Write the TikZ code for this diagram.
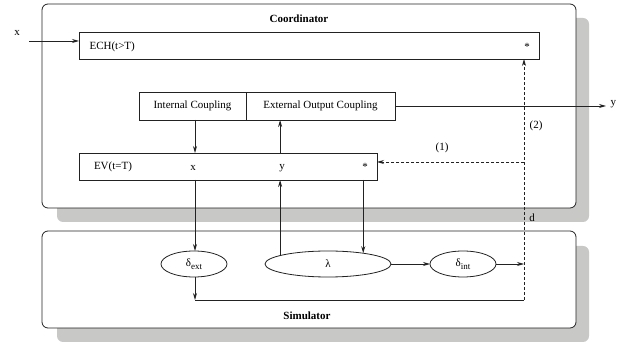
\documentclass[tikz,border=0pt]{standalone}
\usepackage{fontspec}
\setmainfont{Liberation Serif}
\usetikzlibrary{shapes.geometric,arrows.meta}
\definecolor{shade}{HTML}{C8C9C7}
\definecolor{ink}{HTML}{222222}
\begin{document}
\begin{tikzpicture}[x=1pt,y=-1pt, font=\fontsize{11}{13}\selectfont,
  frame/.style={draw=ink, line width=0.8pt, fill=white, rounded corners=6pt, inner sep=0, outer sep=0, minimum width=534pt},
  shadowbox/.style={fill=shade, rounded corners=6pt, inner sep=0, outer sep=0, minimum width=532pt},
  box/.style={draw=ink, line width=0.8pt, inner sep=0, outer sep=0},
  oval/.style={ellipse, draw=ink, line width=0.8pt, inner sep=0, outer sep=0, minimum height=26pt},
  tip/.style={-{Stealth[length=7pt,width=4pt]}},
  arr/.style={draw=ink, line width=0.8pt, tip},
  ln/.style={draw=ink, line width=0.8pt},
  dsh/.style={draw=ink, line width=0.8pt, dash pattern=on 3pt off 2pt},
  sub/.style={}]
\useasboundingbox (0,0) rectangle (632,344);
% frames with shadows
\node[shadowbox, minimum height=204pt] (cshadow) at (323,120) {};
\node[frame, minimum height=204pt] (coord) at (309,106) {};
\node[shadowbox, minimum height=96pt] (sshadow) at (323,294) {};
\node[frame, minimum height=97pt] (sim) at (309,279.5) {};
\node[font=\fontsize{11}{13}\selectfont\bfseries] (ctitle) at (299,19) {Coordinator};
\node[font=\fontsize{11}{13}\selectfont\bfseries] (stitle) at (307,316) {Simulator};
% ECH
\node[box, minimum width=460pt, minimum height=27pt] (ech) at (309,45.5) {};
\node[anchor=west] (echt) at (86,47) {ECH(t>T)};
\node (echstar) at (527,47) {*};
\node (xlab) at (17,33) {x};
\coordinate (xin) at (29,41);
\draw[arr] (xin) -- (ech.west |- xin);
% couplings
\node[box, minimum width=107pt, minimum height=28pt] (ic) at (192.5,106) {Internal Coupling};
\node[box, minimum width=149pt, minimum height=28pt] (eoc) at (320.5,106) {External Output Coupling};
\coordinate (yout) at (606,106);
\node[anchor=west] (ylab) at (607,104) {y};
\draw[arr] (eoc) -- (yout);
% EV
\node[box, minimum width=298pt, minimum height=27pt] (ev) at (228,166.5) {};
\node (evt) at (113,167) {EV(t=T)};
\node (evx) at (193,168) {x};
\node (evy) at (282,168) {y};
\node (evstar) at (365,167) {*};
% ellipses
\node[oval, minimum width=66pt] (dext) at (194,264) {δ\raisebox{-0.7ex}{\fontsize{9}{10}\selectfont ext}};
\node[oval, minimum width=126pt] (lam) at (328,264) {λ};
\node[oval, minimum width=66pt] (dint) at (463,264) {δ\raisebox{-0.7ex}{\fontsize{9}{10}\selectfont int}};
% columns
\coordinate (colx) at (195,0);
\draw[arr] (ic.south -| colx) -- (ev.north -| colx);
\draw[arr] (ev.south -| colx) -- (dext.north -| colx);
\draw[arr] (lam.170.5) -- (lam.170.5 |- ev.south);
\draw[arr] (ev.north -| lam.170.5) -- (eoc.south -| lam.170.5);
\draw[arr] (ev.south -| lam.17.8) -- (lam.17.8);
\draw[arr] (lam) -- (dint);
\coordinate (dj) at (524,264);
\draw[arr] (dint) -- (dj);
\coordinate (bl) at (195,300);
\coordinate (br) at (524,300);
\draw[arr] (dext.south -| colx) -- (bl);
\draw[ln] (bl) -- (br);
\draw[dsh, tip] (br) -- (ech.south -| br);
\coordinate (j1) at (524,162);
\draw[dsh, tip] (j1) -- (ev.east |- j1);
\node (l1) at (442,148) {(1)};
\node (l2) at (536,126) {(2)};
\node (ld) at (532,218) {d};
\end{tikzpicture}
\end{document}
